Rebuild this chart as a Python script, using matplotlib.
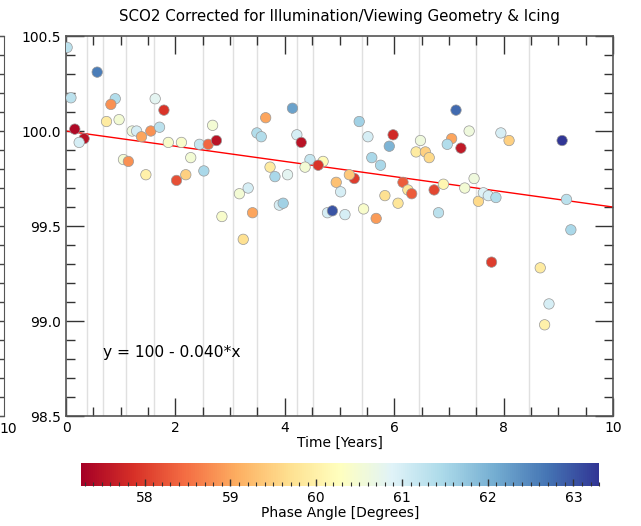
import matplotlib
matplotlib.use('Agg')
import matplotlib.pyplot as plt
from matplotlib.ticker import MultipleLocator
from matplotlib.transforms import ScaledTranslation
import numpy as np

# time since start [years], corrected SCO2 [%], phase angle [deg]
time_yrs = [0.02, 0.57, 0.09, 0.90, 0.82, 1.63, 1.79, 0.74, 0.97, 0.16,
            0.33, 0.24, 1.21, 1.29, 1.38, 1.55, 1.71, 1.87, 2.11, 1.05,
            1.14, 1.46, 2.28, 2.02, 2.19, 2.44, 2.52, 2.60, 2.75, 2.68,
            3.17, 3.33, 2.85, 3.41, 3.24, 3.65, 3.49, 3.57, 4.14, 4.22,
            4.30, 3.73, 3.82, 4.05, 4.46, 4.37, 4.70, 4.61, 3.90, 3.97,
            4.94, 5.02, 4.78, 4.87, 5.36, 5.52, 5.98, 5.91, 5.59, 5.75,
            6.48, 6.40, 6.57, 6.64, 7.13, 7.05, 6.97, 7.22, 7.37, 5.27,
            5.18, 5.10, 5.44, 5.67, 5.83, 6.07, 6.16, 6.25, 6.32, 6.73,
            6.90, 6.81, 7.46, 7.29, 7.54, 7.63, 7.72, 7.86, 7.95, 8.10,
            9.07, 9.15, 9.23, 7.78, 8.67, 8.83, 8.75]
sco2 = [100.44, 100.31, 100.175, 100.17, 100.14, 100.17, 100.11, 100.05, 100.06, 100.01,
        99.96, 99.94, 100.00, 100.00, 99.97, 100.00, 100.02, 99.94, 99.94, 99.85,
        99.84, 99.77, 99.86, 99.74, 99.77, 99.93, 99.79, 99.93, 99.95, 100.03,
        99.67, 99.70, 99.55, 99.57, 99.43, 100.07, 99.99, 99.97, 100.12, 99.98,
        99.94, 99.81, 99.76, 99.77, 99.85, 99.81, 99.84, 99.82, 99.61, 99.62,
        99.73, 99.68, 99.57, 99.58, 100.05, 99.97, 99.98, 99.92, 99.86, 99.82,
        99.95, 99.89, 99.89, 99.86, 100.11, 99.96, 99.93, 99.91, 100.00, 99.75,
        99.77, 99.56, 99.59, 99.54, 99.66, 99.62, 99.73, 99.69, 99.67, 99.69,
        99.72, 99.57, 99.75, 99.70, 99.63, 99.675, 99.66, 99.65, 99.99, 99.95,
        99.95, 99.64, 99.48, 99.31, 99.28, 99.09, 98.98]
phase = [61.3, 62.6, 61.3, 61.4, 58.8, 60.8, 57.9, 59.9, 60.5, 57.4,
         57.5, 61.0, 60.6, 61.0, 59.0, 58.8, 61.3, 60.4, 60.4, 60.5,
         58.8, 60.0, 60.5, 58.2, 59.5, 61.2, 61.5, 58.4, 57.5, 60.5,
         60.5, 61.0, 60.4, 59.0, 59.7, 59.0, 61.4, 61.4, 62.2, 61.0,
         57.5, 59.9, 61.5, 60.8, 61.2, 60.5, 60.2, 57.9, 61.0, 61.6,
         59.3, 61.0, 61.0, 63.0, 61.6, 61.0, 57.8, 62.0, 61.5, 61.5,
         60.6, 59.9, 59.5, 59.6, 62.8, 59.0, 61.4, 57.6, 60.6, 58.0,
         59.4, 61.0, 60.4, 58.9, 59.7, 59.8, 58.3, 59.8, 58.3, 58.1,
         60.1, 61.3, 60.6, 60.5, 59.6, 60.9, 61.0, 61.4, 61.0, 59.5,
         63.3, 61.3, 61.5, 58.0, 59.9, 61.0, 60.0]

# times of instrument events (years)
event_times = [0.39, 0.68, 1.10, 1.60, 2.51, 3.06, 3.49, 4.23, 4.52,
               5.41, 6.45, 7.49, 8.47]

# linear fit  y = a + b*x
fit_a = 100.0
fit_b = -0.040

phase_min = 57.26
phase_max = 63.30

fig = plt.figure(figsize=(6.41, 5.26), dpi=100)

# neighbouring panel, only its right edge shows
ax0 = fig.add_axes([-0.8, 0.2091, 0.8062, 0.7224])
ax0.set_xlim(0, 10)
ax0.set_ylim(98.5, 100.5)
ax0.set_xticks([10])
ax0.set_yticks([])
ax0.yaxis.set_minor_locator(MultipleLocator(0.1))
ax0.yaxis.set_major_locator(MultipleLocator(0.5))
ax0.tick_params(axis='y', which='both', direction='in', right=True, left=False,
                labelleft=False, length=6.5, width=1.0, color='#444444')
ax0.tick_params(axis='x', direction='in', length=0, labelsize=10, pad=4)
shift = ScaledTranslation(-5 / 100, 0, fig.dpi_scale_trans)
for lbl in ax0.get_xticklabels():
    lbl.set_horizontalalignment('left')
    lbl.set_transform(lbl.get_transform() + shift)
for sp in ax0.spines.values():
    sp.set_color('#555555')

ax = fig.add_axes([0.103, 0.2091, 0.8533, 0.7224])

for t in event_times:
    ax.axvline(t, color='#e0e0e0', lw=1.0, zorder=0)

sc = ax.scatter(time_yrs, sco2, c=phase, cmap='RdYlBu', vmin=phase_min, vmax=phase_max,
                s=56, edgecolors='#999999', linewidths=0.5, zorder=3)

xfit = np.array([0, 10])
ax.plot(xfit, fit_a + fit_b * xfit, color='red', lw=1.0, zorder=2)

ax.text(0.068, 0.168, 'y = %d - %.3f*x' % (fit_a, -fit_b), transform=ax.transAxes,
        fontsize=11.2, ha='left', va='center')

ax.set_xlim(0, 10)
ax.set_ylim(98.5, 100.5)
ax.xaxis.set_major_locator(MultipleLocator(2))
ax.xaxis.set_minor_locator(MultipleLocator(0.5))
ax.yaxis.set_major_locator(MultipleLocator(0.5))
ax.yaxis.set_minor_locator(MultipleLocator(0.1))
ax.yaxis.set_major_formatter(matplotlib.ticker.FormatStrFormatter('%.1f'))
ax.tick_params(which='both', direction='in', top=True, right=True, width=1.0,
               color='#333333', labelsize=10)
ax.tick_params(which='major', length=13)
ax.tick_params(which='minor', length=6.5)
for sp in ax.spines.values():
    sp.set_color('#555555')
    sp.set_linewidth(1.2)

ax.set_xlabel('Time [Years]', fontsize=10, labelpad=1)
ax.set_title('SCO2 Corrected for Illumination/Viewing Geometry & Icing', fontsize=10.8, pad=11)

# phase angle colour bar
cax = fig.add_axes([0.1268, 0.076, 0.808, 0.0443])
cb = fig.colorbar(sc, cax=cax, orientation='horizontal')
cb.outline.set_visible(False)
cax.xaxis.set_major_locator(MultipleLocator(1))
cax.xaxis.set_minor_locator(MultipleLocator(0.1))
cax.tick_params(which='both', direction='in', bottom=True, top=False, color='#333333', labelsize=10)
cax.tick_params(which='major', length=5, width=1.0)
cax.tick_params(which='minor', length=3, width=0.8)
cb.set_label('Phase Angle [Degrees]', fontsize=10, labelpad=1)

fig.savefig('out.png', dpi=100)
